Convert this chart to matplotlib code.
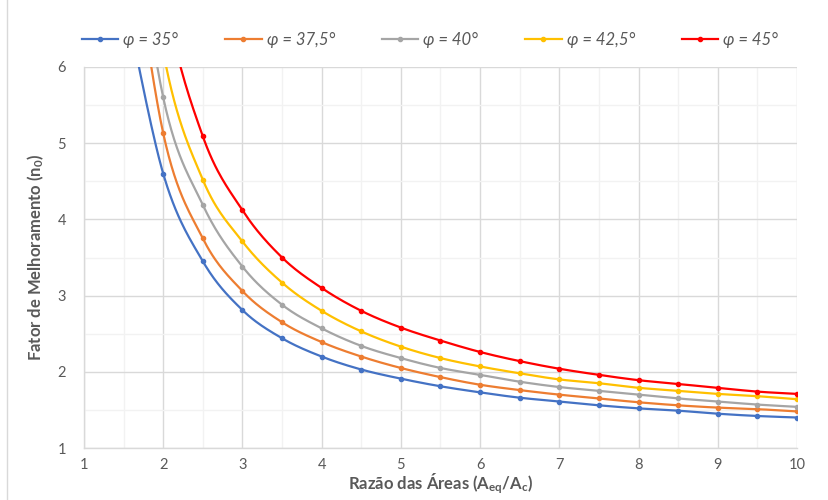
import numpy as np
import matplotlib
matplotlib.use("Agg")
import matplotlib.pyplot as plt
from matplotlib.lines import Line2D
from matplotlib.ticker import MultipleLocator

# ---- data ----
area_ratio = [1.5, 2.0, 2.5, 3.0, 3.5, 4.0, 4.5, 5.0, 5.5, 6.0,
              6.5, 7.0, 7.5, 8.0, 8.5, 9.0, 9.5, 10.0]
phi_35 = [7.0, 4.60, 3.45, 2.81, 2.44, 2.20, 2.03, 1.91, 1.81, 1.73,
          1.66, 1.61, 1.56, 1.52, 1.49, 1.45, 1.42, 1.40]
phi_375 = [8.5, 5.13, 3.75, 3.06, 2.65, 2.39, 2.20, 2.05, 1.93, 1.83,
           1.76, 1.70, 1.65, 1.60, 1.56, 1.53, 1.51, 1.48]
phi_40 = [9.0, 5.60, 4.19, 3.38, 2.88, 2.57, 2.34, 2.18, 2.05, 1.96,
          1.87, 1.80, 1.75, 1.70, 1.65, 1.61, 1.57, 1.54]
phi_425 = [10.0, 6.20, 4.52, 3.71, 3.17, 2.80, 2.53, 2.33, 2.18, 2.07,
           1.98, 1.90, 1.85, 1.79, 1.75, 1.71, 1.68, 1.64]
phi_45 = [11.0, 7.05, 5.09, 4.12, 3.50, 3.10, 2.80, 2.58, 2.41, 2.26,
          2.14, 2.04, 1.96, 1.89, 1.84, 1.79, 1.74, 1.71]
series_labels = ["φ = 35°", "φ = 37,5°", "φ = 40°", "φ = 42,5°", "φ = 45°"]
colors = ["#4472C4", "#ED7D31", "#A5A5A5", "#FFC000", "#FF0000"]


def smooth(x, y, n=30):
    """Excel-like smoothed line: cubic Bezier segments through the points."""
    P = np.column_stack([x, y]).astype(float)
    m = len(P)
    out = []
    t = np.linspace(0, 1, n)[:, None]
    for i in range(m - 1):
        p0 = P[i - 1] if i > 0 else P[i]
        p1 = P[i]
        p2 = P[i + 1]
        p3 = P[i + 2] if i + 2 < m else P[i + 1]
        c1 = p1 + (p2 - p0) / 6.0
        c2 = p2 - (p3 - p1) / 6.0
        seg = ((1 - t) ** 3) * p1 + 3 * ((1 - t) ** 2) * t * c1 + \
              3 * (1 - t) * t ** 2 * c2 + t ** 3 * p2
        out.append(seg if i == 0 else seg[1:])
    out = np.vstack(out)
    return out[:, 0], out[:, 1]


plt.rcParams['font.family'] = ['Lato', 'DejaVu Sans']
plt.rcParams['mathtext.fontset'] = 'custom'
plt.rcParams['mathtext.rm'] = 'Lato:bold'
plt.rcParams['mathtext.it'] = 'Lato:bold'
plt.rcParams['mathtext.bf'] = 'Lato:bold'

fig = plt.figure(figsize=(8.29, 5.0), dpi=100)
ax = fig.add_axes([84 / 829, 1 - 448 / 500, (797 - 84) / 829, (448 - 67) / 500])

all_series = [phi_35, phi_375, phi_40, phi_425, phi_45]
handles = []
for vals, col, lab in zip(all_series, colors, series_labels):
    xs, ys = smooth(area_ratio, vals)
    ax.plot(xs, ys, color=col, lw=1.6, solid_capstyle='round', zorder=3)
    ax.plot(area_ratio, vals, ls='none', marker='o', ms=3, color=col, zorder=4)
    handles.append(Line2D([0], [0], color=col, lw=1.6, marker='o', ms=3))

ax.set_xlim(1, 10)
ax.set_ylim(1, 6)
ax.xaxis.set_major_locator(MultipleLocator(1))
ax.yaxis.set_major_locator(MultipleLocator(1))
ax.xaxis.set_minor_locator(MultipleLocator(0.5))
ax.yaxis.set_minor_locator(MultipleLocator(0.5))
ax.grid(which='major', color='#D9D9D9', lw=1.0, zorder=0)
ax.grid(which='minor', color='#F2F2F2', lw=1.0, zorder=0)
ax.set_axisbelow(True)
for s in ['top', 'right']:
    ax.spines[s].set_visible(False)
for s in ['left', 'bottom']:
    ax.spines[s].set_color('#D9D9D9')
    ax.spines[s].set_linewidth(1.0)
ax.tick_params(which='both', length=0, labelsize=10.5, labelcolor='#595959')
ax.tick_params(axis='x', pad=7)
ax.tick_params(axis='y', pad=13)

ax.set_xlabel('Razão das Áreas (A$_{eq}$/A$_{c}$)', fontsize=12, fontweight='bold',
              color='#595959', labelpad=0)
ax.set_ylabel('Fator de Melhoramento (n$_{0}$)', fontsize=12, fontweight='bold',
              color='#595959', labelpad=8)

leg = fig.legend(handles, series_labels, loc='center', ncol=5,
                 bbox_to_anchor=(430 / 829, 1 - 40 / 500), frameon=False,
                 prop={'style': 'italic', 'size': 12},
                 handlelength=2.2, handletextpad=0.3, columnspacing=2.8)
for txt in leg.get_texts():
    txt.set_color('#595959')

fig.add_artist(Line2D([7 / 829, 7 / 829], [0, 1], color='#D9D9D9', lw=1.0,
                      transform=fig.transFigure))

fig.savefig('out.png', dpi=100)
